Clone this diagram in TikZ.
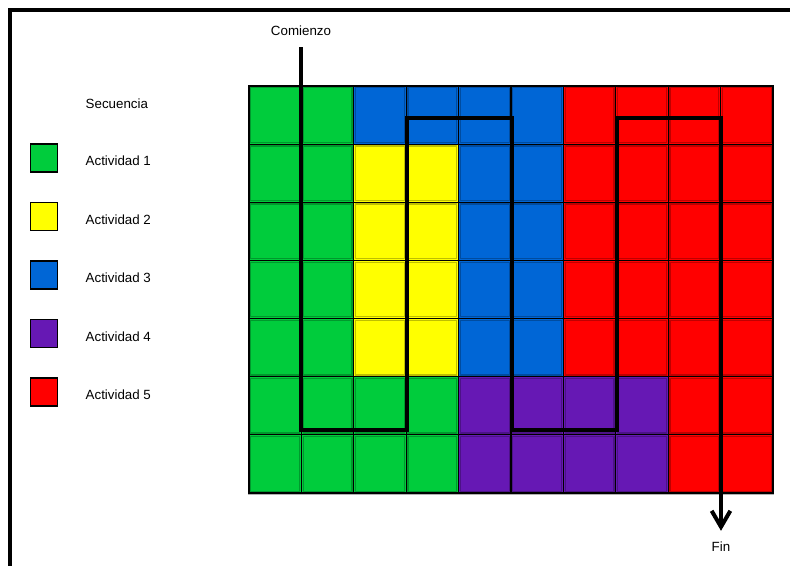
\documentclass[tikz,border=0pt]{standalone}
\usepackage{fontspec}
\setmainfont{Liberation Sans}
\usepackage{tikz}
\usetikzlibrary{arrows.meta}
\definecolor{ActGreen}{RGB}{0, 204, 60}
\definecolor{ActYellow}{RGB}{255, 255, 0}
\definecolor{ActBlue}{RGB}{0, 102, 214}
\definecolor{ActPurple}{RGB}{102, 24, 180}
\definecolor{ActRed}{RGB}{255, 0, 0}
\tikzset{
  cellbox/.style={draw=black, line width=0.8pt},
  legendbox/.style={draw=black, line width=1pt, minimum width=20pt, minimum height=21pt, inner sep=0pt},
  legendtext/.style={anchor=west, font=\fontsize{10}{12}\selectfont},
  seqline/.style={line width=3pt, -{Straight Barb[length=12pt, width=14pt]}}
}

\begin{document}
\begin{tikzpicture}[x=0.75pt,y=-0.75pt]
  \path[use as bounding box] (0,0) rectangle (790,565);
  \fill[white] (0,0) rectangle (790,565);
  \draw[line width=2.6pt] (10,580) -- (10,10) -- (800,10);

  % legend
  \node[legendtext] (secuencia) at (81,104) {Secuencia};
  \foreach \k/\col in {1/ActGreen, 2/ActYellow, 3/ActBlue, 4/ActPurple, 5/ActRed} {
    \node[legendbox, fill=\col] (leg\k) at (44,{158+(\k-1)*58.5}) {};
    \node[legendtext] (act\k) at (81,{161+(\k-1)*58.5}) {Actividad \k};
  }

  % grid of cells
  \draw[gray!60, line width=1.2pt] (249,86) rectangle (773,494);
  \foreach \row [count=\j from 0] in {
      {ActGreen,ActGreen,ActBlue,ActBlue,ActBlue,ActBlue,ActRed,ActRed,ActRed,ActRed},
      {ActGreen,ActGreen,ActYellow,ActYellow,ActBlue,ActBlue,ActRed,ActRed,ActRed,ActRed},
      {ActGreen,ActGreen,ActYellow,ActYellow,ActBlue,ActBlue,ActRed,ActRed,ActRed,ActRed},
      {ActGreen,ActGreen,ActYellow,ActYellow,ActBlue,ActBlue,ActRed,ActRed,ActRed,ActRed},
      {ActGreen,ActGreen,ActYellow,ActYellow,ActBlue,ActBlue,ActRed,ActRed,ActRed,ActRed},
      {ActGreen,ActGreen,ActGreen,ActGreen,ActPurple,ActPurple,ActPurple,ActPurple,ActRed,ActRed},
      {ActGreen,ActGreen,ActGreen,ActGreen,ActPurple,ActPurple,ActPurple,ActPurple,ActRed,ActRed}} {
    \foreach \col [count=\i from 0] in \row {
      \filldraw[cellbox, fill=\col] ({249+\i*52.4},{86+\j*58.14}) rectangle +(52.4,58.14);
      \draw[\col!75!black, line width=0.9pt] ({249+\i*52.4+1.8},{86+\j*58.14+1.8}) rectangle +(48.8,54.54);
    }
  }
  \draw[black, line width=1.2pt] (249,86) rectangle (773,493);

  % sequence path
  \node[font=\fontsize{10}{12}\selectfont] (comienzo) at (301,31) {Comienzo};
  \node[font=\fontsize{10}{12}\selectfont] (fin) at (721,547) {Fin};
  \draw[seqline] ([yshift=-5pt]comienzo.south) -- (301,430) -- (407,430) -- (407,118)
    -- (512,118) -- (512,430) -- (617,430) -- (617,118) -- (721,118) -- ([yshift=5pt]fin.north);
\end{tikzpicture}
\end{document}
